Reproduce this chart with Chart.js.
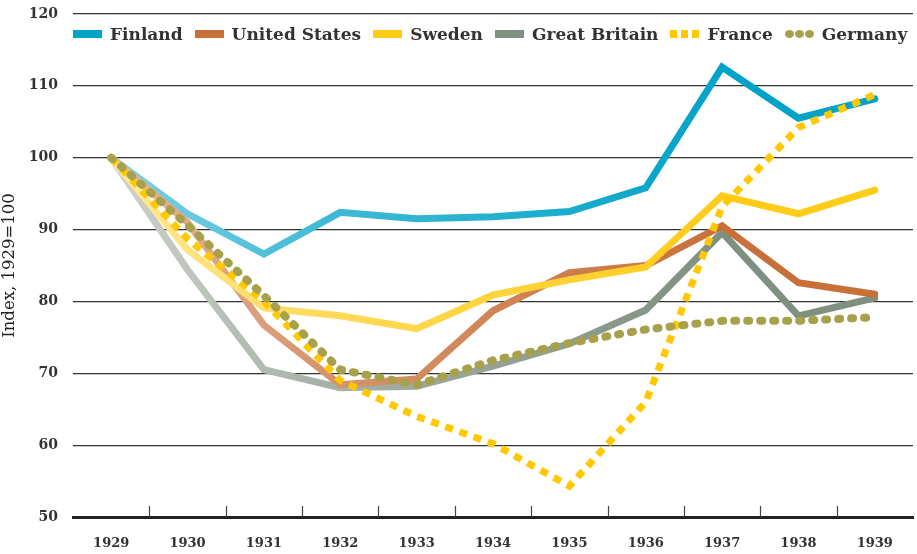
<!DOCTYPE html>
<html>
<head>
<meta charset="utf-8">
<script src="https://cdn.jsdelivr.net/npm/chart.js@4/dist/chart.umd.min.js"></script>
<style>
  html, body { margin: 0; padding: 0; background: #fff; }
  #wrap { position: relative; width: 917px; height: 554px; }
  #legend {
    position: absolute; left: 73px; top: 24px;
    display: flex; align-items: center; white-space: nowrap;
    font-family: "DejaVu Serif", serif; font-size: 17px; font-weight: bold; color: #333;
  }
  #legend .item { display: flex; align-items: center; margin-right: 12px; }
  #legend .box { width: 29px; height: 8px; margin-right: 8px; display: flex; justify-content: space-between; align-items: center; }
  #legend .dot { width: 9px; height: 8px; border-radius: 50%; }
</style>
</head>
<body>
<div id="wrap">
  <canvas id="chart" width="917" height="554"></canvas>
  <div id="legend"></div>
</div>
<script>
// данні з графіка
const years = ["1929", "1930", "1931", "1932", "1933", "1934", "1935", "1936", "1937", "1938", "1939"];
const finland = [100, 92.2, 86.6, 92.4, 91.5, 91.8, 92.5, 95.8, 112.6, 105.5, 108.2];
const unitedStates = [100, 91, 76.7, 68.4, 69.2, 78.7, 84.0, 85.0, 90.5, 82.6, 81.0];
const sweden = [100, 87.2, 79.1, 78.0, 76.2, 80.9, 83.0, 84.8, 94.7, 92.2, 95.5];
const greatBritain = [100, 84.4, 70.5, 68.0, 68.2, 71.0, 74.1, 78.8, 89.6, 78.0, 80.5];
const france = [100, 88.7, 80.0, 69.0, 64.0, 60.2, 54.3, 66.0, 93.2, 104.2, 108.8];
const germany = [100, 90.6, 80.8, 70.5, 68.4, 71.8, 74.2, 76.1, 77.3, 77.3, 77.8];
const yTicks = [50, 60, 70, 80, 90, 100, 110, 120];

const serif = "'DejaVu Serif', serif";

// градієнт: бліда лінія зліва, насичена справа
function fade(rgb, pale) {
  return function (ctx) {
    const chart = ctx.chart;
    const area = chart.chartArea;
    if (!area) return "rgb(" + rgb.join(",") + ")";
    const x = chart.scales.x;
    const x0 = x.getPixelForValue(0);
    const x1 = x.getPixelForValue(8);
    const g = chart.ctx.createLinearGradient(x0, 0, x1, 0);
    const light = rgb.map(c => Math.round(c + (255 - c) * pale));
    g.addColorStop(0, "rgb(" + light.join(",") + ")");
    g.addColorStop(0.35, "rgb(" + rgb.map((c, i) => Math.round((c + light[i]) / 2)).join(",") + ")");
    g.addColorStop(1, "rgb(" + rgb.join(",") + ")");
    return g;
  };
}

const datasets = [
  { label: "Finland", data: finland, color: "#00a3c8", borderColor: fade([0, 163, 200], 0.5), order: 5 },
  { label: "United States", data: unitedStates, color: "#c8703a", borderColor: fade([200, 112, 58], 0.5), order: 3 },
  { label: "Sweden", data: sweden, color: "#ffcc1a", borderColor: fade([255, 204, 26], 0.55), order: 2 },
  { label: "Great Britain", data: greatBritain, color: "#7f8f80", borderColor: fade([127, 143, 128], 0.6), order: 4 },
  { label: "France", data: france, color: "#ffc800", borderColor: "#ffc800", borderDash: [8, 7], borderCapStyle: "butt", order: 1 },
  { label: "Germany", data: germany, color: "#a8a14b", borderColor: "#a8a14b", borderDash: [2, 11], borderCapStyle: "round", borderWidth: 8, order: 0 },
];
datasets.forEach(d => {
  d.borderWidth = d.borderWidth || 7;
  d.pointRadius = 0;
  d.tension = 0;
  d.fill = false;
  d.borderJoinStyle = "miter";
  if (!d.borderCapStyle) d.borderCapStyle = "round";
});

// засічки між роками на осі x
const tickMarks = {
  id: "tickMarks",
  afterDatasetsDraw(chart) {
    const x = chart.scales.x;
    const ctx = chart.ctx;
    const bottom = chart.chartArea.bottom;
    ctx.save();
    ctx.strokeStyle = "#444";
    ctx.lineWidth = 1.2;
    for (let i = 0; i < years.length - 1; i++) {
      const px = Math.round((x.getPixelForValue(i) + x.getPixelForValue(i + 1)) / 2) + 0.5;
      ctx.beginPath();
      ctx.moveTo(px, bottom);
      ctx.lineTo(px, bottom - 11);
      ctx.stroke();
    }
    ctx.restore();
  },
};

const chart = new Chart(document.getElementById("chart"), {
  type: "line",
  data: { labels: years, datasets: datasets },
  plugins: [tickMarks],
  options: {
    responsive: false,
    animation: false,
    layout: { padding: { top: 0, right: 4 } },
    plugins: {
      legend: { display: false },
      tooltip: { enabled: false },
    },
    scales: {
      x: {
        offset: true,
        grid: { display: false },
        border: { display: true, color: "#222", width: 3 },
        ticks: { color: "#333", font: { family: serif, size: 13, weight: "bold" }, padding: 11, maxRotation: 0 },
        afterFit: s => { s.height = 37; },
      },
      y: {
        min: 50,
        max: 120,
        afterBuildTicks: s => { s.ticks = yTicks.map(v => ({ value: v })); },
        grid: { color: "#333", lineWidth: 1.2, drawTicks: false },
        border: { display: false },
        ticks: { color: "#333", font: { family: serif, size: 14, weight: "bold" }, padding: 15 },
        title: { display: true, text: "Index, 1929=100", color: "#222", font: { family: serif, size: 16.5 }, padding: 0 },
        afterFit: s => { s.width = 73; s.paddingTop = 14; s.paddingBottom = 0; },
      },
    },
  },
});

// легенда
const legend = document.getElementById("legend");
datasets.forEach(d => {
  const item = document.createElement("div");
  item.className = "item";
  const box = document.createElement("span");
  box.className = "box";
  if (d.label === "France" || d.label === "Germany") {
    for (let i = 0; i < 3; i++) {
      const dot = document.createElement("span");
      dot.className = "dot";
      dot.style.background = d.color;
      if (d.label === "France") { dot.style.borderRadius = "0"; dot.style.width = "7px"; dot.style.height = "8px"; }
      box.appendChild(dot);
    }
  } else {
    box.style.background = d.color;
  }
  item.appendChild(box);
  item.appendChild(document.createTextNode(d.label));
  legend.appendChild(item);
});
</script>
</body>
</html>
